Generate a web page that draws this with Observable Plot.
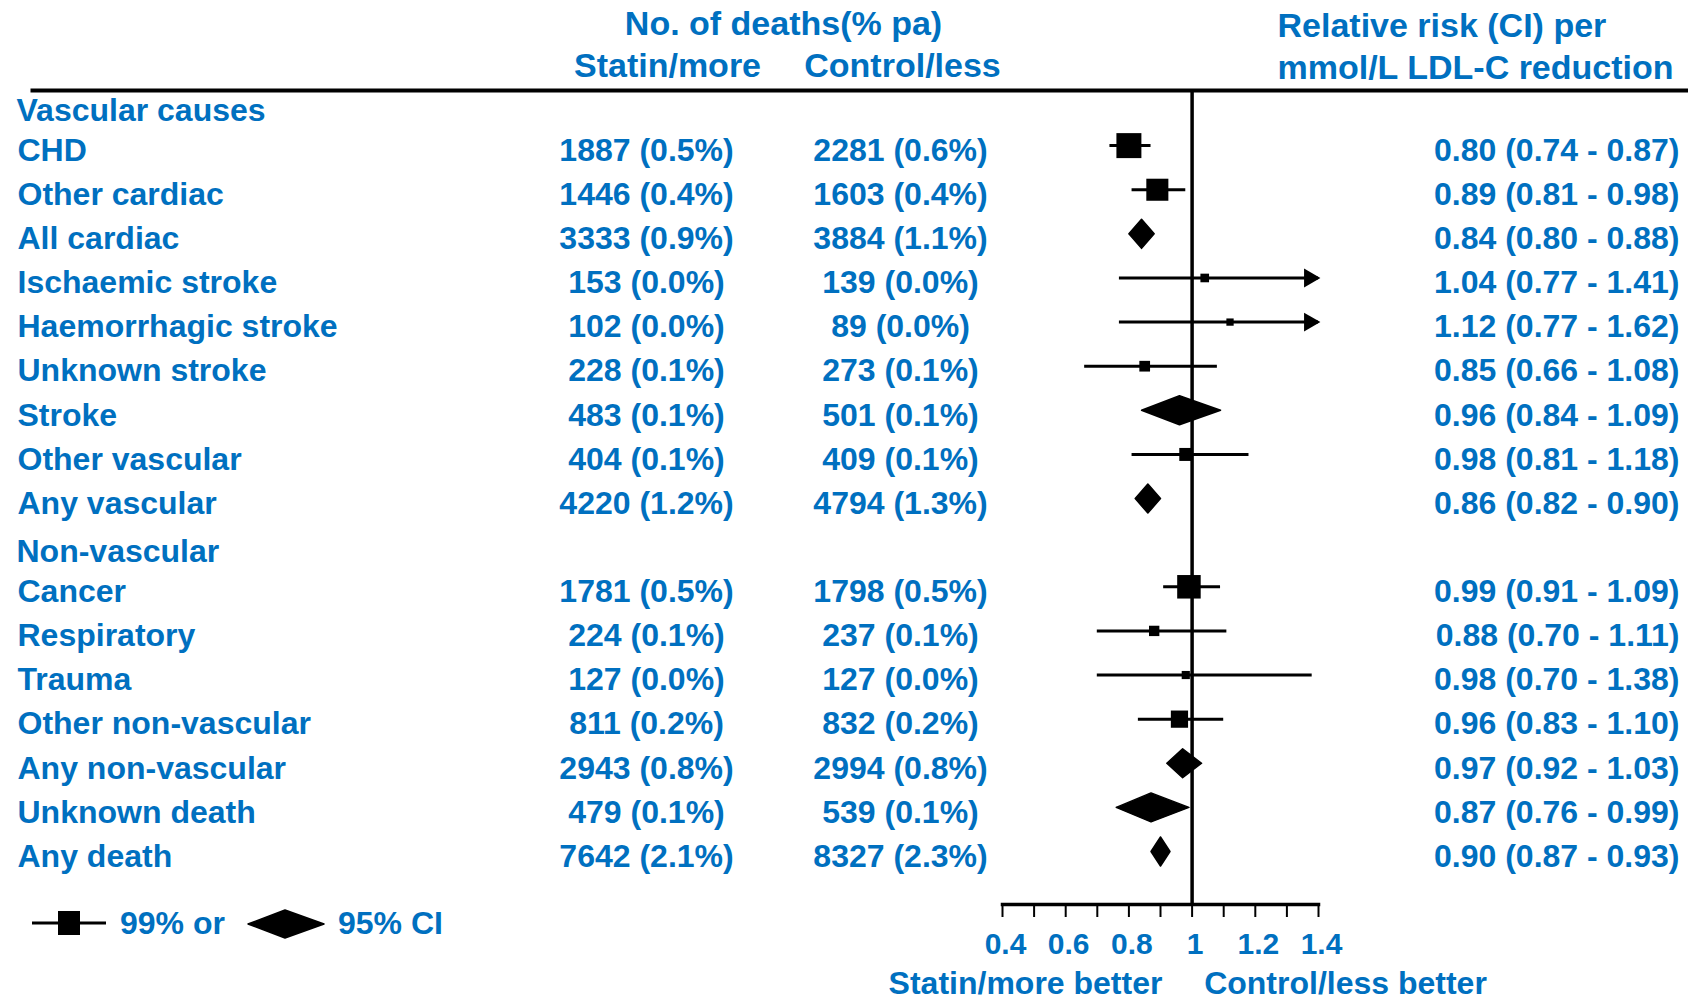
<!DOCTYPE html>
<html><head><meta charset="utf-8">
<script src="https://cdn.jsdelivr.net/npm/d3@7"></script>
<script src="https://cdn.jsdelivr.net/npm/@observablehq/plot@0.6"></script>
<style>
html,body{margin:0;padding:0;background:#fff;}
#wrap{position:relative;width:1688px;height:1002px;font-family:"Liberation Sans",Arial,sans-serif;}
#wrap > svg{position:absolute;left:0;top:0;}
.lg{position:absolute;color:#0070C0;font-weight:bold;font-size:32px;line-height:32px;}
</style></head><body><div id="wrap"></div>
<script>
// ---- data ----
const causes = ["Vascular causes","CHD","Other cardiac","All cardiac","Ischaemic stroke","Haemorrhagic stroke","Unknown stroke","Stroke","Other vascular","Any vascular","Non-vascular","Cancer","Respiratory","Trauma","Other non-vascular","Any non-vascular","Unknown death","Any death"];
const kinds = ["header","square","square","diamond","square","square","square","diamond","square","diamond","header","square","square","square","square","diamond","diamond","diamond"];
const statinDeaths = [null,1887,1446,3333,153,102,228,483,404,4220,null,1781,224,127,811,2943,479,7642];
const statinPct = [null,0.5,0.4,0.9,0.0,0.0,0.1,0.1,0.1,1.2,null,0.5,0.1,0.0,0.2,0.8,0.1,2.1];
const controlDeaths = [null,2281,1603,3884,139,89,273,501,409,4794,null,1798,237,127,832,2994,539,8327];
const controlPct = [null,0.6,0.4,1.1,0.0,0.0,0.1,0.1,0.1,1.3,null,0.5,0.1,0.0,0.2,0.8,0.1,2.3];
const rr = [null,0.80,0.89,0.84,1.04,1.12,0.85,0.96,0.98,0.86,null,0.99,0.88,0.98,0.96,0.97,0.87,0.90];
const rrLow = [null,0.74,0.81,0.80,0.77,0.77,0.66,0.84,0.81,0.82,null,0.91,0.70,0.70,0.83,0.92,0.76,0.87];
const rrHigh = [null,0.87,0.98,0.88,1.41,1.62,1.08,1.09,1.18,0.90,null,1.09,1.11,1.38,1.10,1.03,0.99,0.93];
const xTicks = [0.4,0.5,0.6,0.7,0.8,0.9,1.0,1.1,1.2,1.3,1.4];
const xTickLabels = [0.4,0.6,0.8,1,1.2,1.4];
const headTitle = "No. of deaths(% pa)";
const headStatin = "Statin/more";
const headControl = "Control/less";
const headRR1 = "Relative risk (CI) per";
const headRR2 = "mmol/L LDL-C reduction";
const betterLeft = "Statin/more better";
const betterRight = "Control/less better";
const legendSquare = "99% or";
const legendDiamond = "95% CI";

// ---- derived ----
const BLUE = "#0070C0";
const FONT = "'Liberation Sans', Arial, sans-serif";
const xDomain = [0.4, 1.4];
const yRange = [101, 851];
const rows = causes.map((label, i) => ({
  i, label, kind: kinds[i],
  sN: statinDeaths[i], sP: statinPct[i], cN: controlDeaths[i], cP: controlPct[i],
  est: rr[i], lo: rrLow[i], hi: rrHigh[i],
  w: (statinDeaths[i] || 0) + (controlDeaths[i] || 0)
}));
const dataRows = rows.filter(d => d.kind !== "header");
const headRows = rows.filter(d => d.kind === "header");
const squares = dataRows.filter(d => d.kind === "square");
const diamonds = dataRows.filter(d => d.kind === "diamond");
const overflow = squares.filter(d => d.hi > xDomain[1]);
const yUnit = (yRange[1] - yRange[0]) / (causes.length - 1);
const halfH = 14.5 / yUnit;
const diamondPts = diamonds.flatMap(d => [
  {k: d.label, x: d.lo, y: d.i},
  {k: d.label, x: d.est, y: d.i - halfH},
  {k: d.label, x: d.hi, y: d.i},
  {k: d.label, x: d.est, y: d.i + halfH},
  {k: d.label, x: d.lo, y: d.i}
]);
const txt = {fontSize: 32, fontWeight: "bold", fill: BLUE, fontFamily: FONT, lineAnchor: "middle"};
const hdr = {fontSize: 34, fontWeight: "bold", fill: BLUE, fontFamily: FONT, lineAnchor: "middle"};

const chart = Plot.plot({
  width: 1688, height: 1002,
  marginLeft: 1002, marginRight: 370, marginTop: 90, marginBottom: 98,
  style: {fontFamily: FONT, background: "white", overflow: "visible"},
  x: {domain: xDomain, axis: null},
  y: {domain: [0, causes.length - 1], range: yRange, axis: null},
  r: {type: "pow", exponent: 0.4, domain: [0, d3.max(squares, d => d.w)], range: [0, 14.1]},
  marks: [
    Plot.frame({anchor: "top", insetLeft: -970, insetRight: -370, stroke: "black", strokeWidth: 4}),
    Plot.frame({anchor: "bottom", stroke: "black", strokeWidth: 3.5}),
    Plot.ruleX([1], {stroke: "black", strokeWidth: 3.5}),
    Plot.axisX(xTicks, {anchor: "bottom", tickSize: 13, stroke: "black", strokeWidth: 2, tickFormat: () => "", label: null}),
    Plot.axisX(xTickLabels, {anchor: "bottom", tickSize: 0, tickPadding: 28, tickFormat: d => `${d}`, fill: BLUE, fontSize: 30, fontWeight: "bold", fontFamily: FONT, dx: 3, label: null}),
    Plot.ruleY(squares, {y: "i", x1: "lo", x2: d => Math.min(d.hi, xDomain[1]), stroke: "black", strokeWidth: 3}),
    Plot.dot(overflow, {x: () => xDomain[1], y: "i", symbol: "triangle", rotate: 90, r: 7, fill: "black", dx: -9}),
    Plot.dot(squares, {x: "est", y: "i", r: "w", symbol: "square", fill: "black"}),
    Plot.line(diamondPts, {x: "x", y: "y", z: "k", fill: "black", stroke: "black", strokeWidth: 1.5, strokeLinejoin: "round"}),
    // row texts
    Plot.text(dataRows, {y: "i", text: "label", frameAnchor: "left", textAnchor: "start", dx: -985, dy: 5, ...txt}),
    Plot.text(headRows, {y: "i", text: "label", frameAnchor: "left", textAnchor: "start", dx: -986, dy: 9, ...txt}),
    Plot.text(dataRows, {y: "i", text: d => `${d.sN} (${d.sP.toFixed(1)}%)`, frameAnchor: "left", textAnchor: "middle", dx: -356, dy: 5, ...txt}),
    Plot.text(dataRows, {y: "i", text: d => `${d.cN} (${d.cP.toFixed(1)}%)`, frameAnchor: "left", textAnchor: "middle", dx: -102, dy: 5, ...txt}),
    Plot.text(dataRows, {y: "i", text: d => `${d.est.toFixed(2)} (${d.lo.toFixed(2)} - ${d.hi.toFixed(2)})`, frameAnchor: "right", textAnchor: "end", dx: 361, dy: 5, ...txt}),
    // headers
    Plot.text([headTitle], {text: d => d, frameAnchor: "top-left", textAnchor: "middle", dx: -219, dy: -66, ...hdr}),
    Plot.text([headStatin], {text: d => d, frameAnchor: "top-left", textAnchor: "middle", dx: -335, dy: -24, ...hdr}),
    Plot.text([headControl], {text: d => d, frameAnchor: "top-left", textAnchor: "middle", dx: -100, dy: -24, ...hdr}),
    Plot.text([headRR1], {text: d => d, frameAnchor: "top-right", textAnchor: "start", dx: -41, dy: -64, ...hdr}),
    Plot.text([headRR2], {text: d => d, frameAnchor: "top-right", textAnchor: "start", dx: -41, dy: -22, ...hdr}),
    // better labels
    Plot.text([betterLeft], {text: d => d, frameAnchor: "bottom", textAnchor: "middle", dx: -135, dy: 79, ...txt}),
    Plot.text([betterRight], {text: d => d, frameAnchor: "bottom", textAnchor: "middle", dx: 185, dy: 79, ...txt})
  ]
});
const wrap = document.getElementById("wrap");
wrap.appendChild(chart);

// legend
const lg = document.createElement("div");
lg.innerHTML = `
<svg style="position:absolute;left:32px;top:910px" width="76" height="28">
  <line x1="0" y1="13" x2="74" y2="13" stroke="black" stroke-width="3"/>
  <rect x="26" y="1" width="22" height="24" fill="black"/>
</svg>
<div class="lg" style="left:120px;top:907px">${legendSquare}</div>
<svg style="position:absolute;left:247px;top:909px" width="78" height="30">
  <polygon points="1,15 38,1 77,15 38,29" fill="black" stroke="black" stroke-linejoin="round" stroke-width="1.5"/>
</svg>
<div class="lg" style="left:338px;top:907px">${legendDiamond}</div>`;
wrap.appendChild(lg);
</script>
</body></html>
